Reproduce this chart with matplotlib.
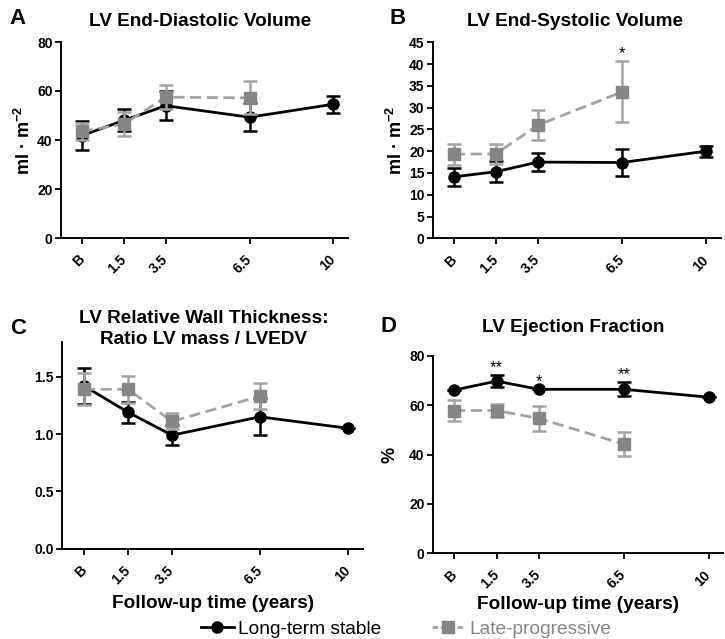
import matplotlib
matplotlib.use("Agg")
import matplotlib.pyplot as plt
from matplotlib.lines import Line2D

# time points on the x axis (B = baseline), placed at unequal steps like the original
timepoints = ["B", "1.5", "3.5", "6.5", "10"]
time_pos = [0, 1, 2, 4, 6]

# panel A: LV end-diastolic volume (ml/m2)
edv_stable = [41.8, 48.0, 54.0, 49.3, 54.6]
edv_stable_err = [6.0, 4.5, 5.8, 5.8, 3.4]
edv_late = [43.5, 46.5, 57.5, 57.2]
edv_late_err = [3.5, 4.8, 4.8, 6.7]

# panel B: LV end-systolic volume (ml/m2)
esv_stable = [14.1, 15.3, 17.5, 17.4, 20.0]
esv_stable_err = [2.0, 2.4, 2.1, 3.0, 1.3]
esv_late = [19.3, 19.4, 26.0, 33.6]
esv_late_err = [2.4, 2.3, 3.5, 7.0]
esv_sig = ["", "", "", "*", ""]

# panel C: relative wall thickness (LV mass / LVEDV)
rwt_stable = [1.42, 1.19, 0.99, 1.15, 1.05]
rwt_stable_err = [0.155, 0.09, 0.085, 0.16, 0.0]
rwt_late = [1.39, 1.39, 1.11, 1.33]
rwt_late_err = [0.14, 0.12, 0.07, 0.115]

# panel D: LV ejection fraction (%)
ef_stable = [66.1, 69.7, 66.4, 66.4, 63.2]
ef_stable_err = [0.0, 2.5, 0.0, 2.8, 0.0]
ef_late = [57.8, 57.8, 54.6, 44.2]
ef_late_err = [4.2, 2.7, 5.0, 5.0]
ef_sig = ["", "**", "*", "**", ""]

BLACK = "black"
GREY_LINE = "#a3a3a3"
GREY_MARK = "#858585"

plt.rcParams["font.family"] = ["Liberation Sans", "DejaVu Sans"]
plt.rcParams["font.weight"] = "bold"
plt.rcParams["axes.labelweight"] = "bold"
plt.rcParams["mathtext.fontset"] = "custom"
plt.rcParams["mathtext.rm"] = "Liberation Sans:bold"
plt.rcParams["mathtext.default"] = "rm"

W, H = 725, 639


def px_axes(fig, left, top, right, bottom):
    """ add axes from pixel coordinates (origin top-left) """
    return fig.add_axes([left / W, 1 - bottom / H, (right - left) / W, (bottom - top) / H])


def draw_panel(ax, stable, stable_err, late, late_err, ylim, yticks, sig=None):
    ax.errorbar(time_pos, stable, yerr=stable_err, color=BLACK, lw=2.0, marker="o",
                ms=8, capsize=5, capthick=1.8, elinewidth=1.8, zorder=3)
    ax.errorbar(time_pos[:len(late)], late, yerr=late_err, color=GREY_LINE, lw=2.0,
                ls=(0, (4, 2)), marker="s", ms=8, mfc=GREY_MARK, mec=GREY_MARK,
                capsize=5, capthick=1.8, elinewidth=1.8, zorder=4)

    if sig is not None:
        # stars sit just above the highest error bar at that time point
        for i, s in enumerate(sig):
            if not s:
                continue
            top = stable[i] + stable_err[i]
            if i < len(late):
                top = max(top, late[i] + late_err[i])
            ax.annotate(s, (time_pos[i], top), xytext=(0, 0), textcoords="offset points",
                        ha="center", va="bottom", fontsize=12, fontweight="normal")

    ax.set_xlim(-0.5, 6.35)
    ax.set_ylim(*ylim)
    ax.set_yticks(yticks)
    ax.set_xticks(time_pos)
    ax.set_xticklabels(timepoints, rotation=45, ha="right", va="center",
                       rotation_mode="anchor")
    ax.tick_params(direction="out", length=4, width=1.3, labelsize=10, pad=2)
    ax.tick_params(axis="x", pad=10)
    for side in ["top", "right"]:
        ax.spines[side].set_visible(False)
    for side in ["left", "bottom"]:
        ax.spines[side].set_linewidth(1.4)


fig = plt.figure(figsize=(W / 100, H / 100), dpi=100)

axA = px_axes(fig, 61, 42, 61 + 41.9 * 6.85, 238)
draw_panel(axA, edv_stable, edv_stable_err, edv_late, edv_late_err, (0, 80), [0, 20, 40, 60, 80])
axA.set_ylabel("ml · m$^{-2}$", fontsize=13, labelpad=2)

axB = px_axes(fig, 433, 42.3, 433 + 42 * 6.85, 238.3)
draw_panel(axB, esv_stable, esv_stable_err, esv_late, esv_late_err, (0, 45),
           list(range(0, 46, 5)), sig=esv_sig)
axB.set_ylabel("ml · m$^{-2}$", fontsize=13, labelpad=2)

axC = px_axes(fig, 62, 342.3, 62 + 44 * 6.85, 548.7)
draw_panel(axC, rwt_stable, rwt_stable_err, rwt_late, rwt_late_err, (0, 1.8),
           [0.0, 0.5, 1.0, 1.5])
axC.yaxis.set_major_formatter(matplotlib.ticker.FormatStrFormatter("%.1f"))
axC.set_xlabel("Follow-up time (years)", fontsize=13.7, labelpad=6)

axD = px_axes(fig, 433, 355.7, 433 + 42.4 * 6.85, 553.3)
draw_panel(axD, ef_stable, ef_stable_err, ef_late, ef_late_err, (0, 80), [0, 20, 40, 60, 80],
           sig=ef_sig)
axD.set_ylabel("%", fontsize=13, labelpad=8)
axD.set_xlabel("Follow-up time (years)", fontsize=13.7, labelpad=3)

# titles and panel letters
fig.text(200 / W, 1 - 22 / H, "LV End-Diastolic Volume", ha="center", va="center", fontsize=13.7)
fig.text(575 / W, 1 - 22 / H, "LV End-Systolic Volume", ha="center", va="center", fontsize=13.7)
fig.text(204 / W, 1 - 329 / H, "LV Relative Wall Thickness:\nRatio LV mass / LVEDV",
         ha="center", va="center", fontsize=13.7, linespacing=1.3)
fig.text(573 / W, 1 - 328 / H, "LV Ejection Fraction", ha="center", va="center", fontsize=13.7)
for letter, x, y in [("A", 18, 18), ("B", 398, 18), ("C", 18, 328), ("D", 388, 327)]:
    fig.text(x / W, 1 - y / H, letter, ha="center", va="center", fontsize=16)

# legend at the bottom
handles = [
    Line2D([], [], color=BLACK, lw=2.0, marker="o", ms=8),
    Line2D([], [], color=GREY_LINE, lw=2.0, ls=(0, (2, 1)), marker="s", ms=8,
           mfc=GREY_MARK, mec=GREY_MARK),
]
leg = fig.legend(handles, ["Long-term stable", "Late-progressive"], loc="center",
                 bbox_to_anchor=(406 / W, 1 - 629 / H), ncol=2, frameon=False,
                 prop={"family": "Liberation Sans", "weight": "normal", "size": 13.8},
                 handlelength=1.7, handletextpad=0.25, columnspacing=2.6,
                 borderpad=0, borderaxespad=0)
leg.get_texts()[1].set_color(GREY_MARK)

fig.savefig("out.png", dpi=100)
